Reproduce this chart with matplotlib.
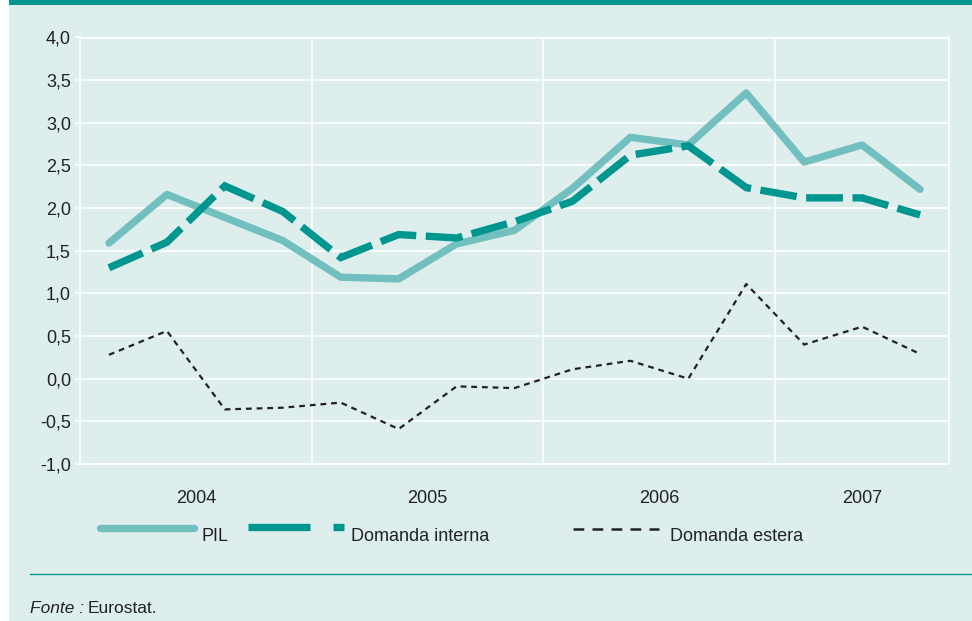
import matplotlib
matplotlib.use("Agg")
import matplotlib.pyplot as plt
from matplotlib.lines import Line2D
from matplotlib.transforms import Affine2D

# ---- data ----
years = ["2004", "2005", "2006", "2007"]
quarters_per_year = [4, 4, 4, 3]
pil = [1.59, 2.16, 1.89, 1.62, 1.19, 1.17, 1.58, 1.74, 2.23, 2.83, 2.74, 3.35, 2.54, 2.74, 2.22]
domanda_interna = [1.30, 1.60, 2.26, 1.96, 1.42, 1.69, 1.65, 1.84, 2.08, 2.62, 2.73, 2.24, 2.12, 2.12, 1.92]
domanda_estera = [0.28, 0.56, -0.36, -0.34, -0.28, -0.59, -0.09, -0.11, 0.11, 0.21, 0.0, 1.11, 0.40, 0.61, 0.29]
yticks = [-1.0, -0.5, 0.0, 0.5, 1.0, 1.5, 2.0, 2.5, 3.0, 3.5, 4.0]
labels = ["PIL", "Domanda interna", "Domanda estera"]

# ---- style ----
BG = "#deeeed"
TEAL = "#009690"
LIGHT = "#72bfbf"
DARK = "#222222"
FONT = "Liberation Sans"
plt.rcParams["font.family"] = [FONT, "DejaVu Sans"]

W, H = 972, 621
fig = plt.figure(figsize=(W / 100, H / 100), dpi=100)
fig.patch.set_facecolor("white")
px = Affine2D().scale(1 / W, -1 / H).translate(0, 1) + fig.transFigure

# background panel and top bar
fig.add_artist(plt.Rectangle((9, 0), W - 9, H, transform=px, facecolor=BG, edgecolor="none", zorder=-10))
fig.add_artist(plt.Rectangle((9, 0), W - 9, 4.5, transform=px, facecolor=TEAL, edgecolor="none", zorder=-9))

ax = fig.add_axes([80 / W, (H - 464) / H, (949 - 80) / W, (464 - 37.5) / H])
ax.set_facecolor(BG)

n = len(pil)
x = [i + 0.5 for i in range(n)]
ax.plot(x, pil, color=LIGHT, lw=5.3, solid_joinstyle="round", solid_capstyle="round", zorder=3)
ax.plot(x, domanda_interna, color=TEAL, lw=5.3, dashes=(5, 1.3), dash_capstyle="butt",
        dash_joinstyle="miter", zorder=4)
ax.plot(x, domanda_estera, color=DARK, lw=1.6, dashes=(2.6, 2.2), zorder=5)

ax.set_xlim(0, n)
ax.set_ylim(-1.0, 4.0)
ax.set_yticks(yticks)
ax.set_yticklabels([f"{v:.1f}".replace(".", ",") for v in yticks], fontsize=13, color="#222222")

bounds = []
acc = 0
centers = []
for q in quarters_per_year:
    centers.append(acc + q / 2)
    acc += q
    bounds.append(acc)
ax.set_xticks(bounds[:-1])
ax.set_xticklabels([])
ax.set_xticks(centers, minor=True)
ax.set_xticklabels(years, minor=True, fontsize=13, color="#222222")
ax.tick_params(axis="x", which="both", length=0)
ax.tick_params(axis="x", which="minor", pad=19)
ax.tick_params(axis="y", length=3.5, color="white", width=1.2, pad=3)

ax.grid(True, which="major", color="white", lw=1.2)
ax.set_axisbelow(True)
for s in ax.spines.values():
    s.set_color("white")
    s.set_linewidth(1.2)

# ---- legend (manual, figure pixel coords) ----
fig.add_artist(Line2D([100, 194], [528, 528], transform=px, color=LIGHT, lw=5.3, solid_capstyle="round"))
fig.add_artist(Line2D([248, 310], [527, 527], transform=px, color=TEAL, lw=5.3, solid_capstyle="butt"))
fig.add_artist(Line2D([333, 344], [527, 527], transform=px, color=TEAL, lw=5.3, solid_capstyle="butt"))
fig.add_artist(Line2D([573, 659], [529, 529], transform=px, color=DARK, lw=1.8, dashes=(4.3, 3.3)))
for lx, lab in zip([201, 351, 670], labels):
    fig.text(lx, 541, lab, transform=px, fontsize=13, color="#222222", va="baseline", ha="left")

# footer
fig.add_artist(Line2D([30, 972], [574, 574], transform=px, color=TEAL, lw=1.0))
fig.text(30, 613, "Fonte :", transform=px, fontsize=12.5, style="italic", color="#222222", va="baseline")
fig.text(88, 613, "Eurostat.", transform=px, fontsize=12.5, color="#222222", va="baseline")

fig.savefig("out.png", dpi=100, facecolor=fig.get_facecolor())
